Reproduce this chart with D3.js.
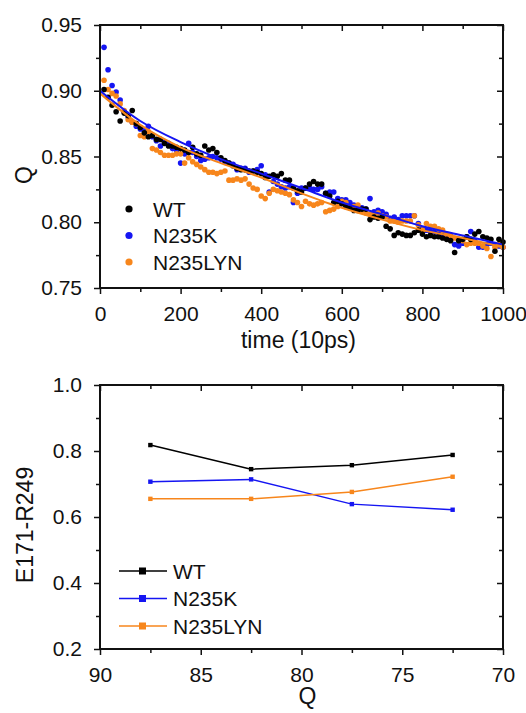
<!DOCTYPE html>
<html>
<head>
<meta charset="utf-8">
<script src="https://cdn.jsdelivr.net/npm/d3@7"></script>
<style>
  body { margin: 0; background: #fff; }
  text { font-family: "Liberation Sans", Arial, Helvetica, sans-serif; }
</style>
</head>
<body>
<svg id="fig" width="526" height="713"></svg>
<script>
// ---- top panel: Q vs time ----
const times = [10, 20, 30, 40, 50, 60, 70, 80, 90, 100,
  110, 120, 130, 140, 150, 160, 170, 180, 190, 200,
  210, 220, 230, 240, 250, 260, 270, 280, 290, 300,
  310, 320, 330, 340, 350, 360, 370, 380, 390, 400,
  410, 420, 430, 440, 450, 460, 470, 480, 490, 500,
  510, 520, 530, 540, 550, 560, 570, 580, 590, 600,
  610, 620, 630, 640, 650, 660, 670, 680, 690, 700,
  710, 720, 730, 740, 750, 760, 770, 780, 790, 800,
  810, 820, 830, 840, 850, 860, 870, 880, 890, 900,
  910, 920, 930, 940, 950, 960, 970, 980, 990, 1000];

const qWT = [0.901, 0.895, 0.889, 0.884, 0.877, 0.883, 0.881, 0.885, 0.875, 0.872,
  0.868, 0.865, 0.866, 0.863, 0.863, 0.860, 0.858, 0.858, 0.857, 0.856,
  0.855, 0.853, 0.857, 0.852, 0.851, 0.858, 0.855, 0.856, 0.853, 0.849,
  0.847, 0.845, 0.843, 0.841, 0.840, 0.840, 0.839, 0.839, 0.838, 0.837,
  0.834, 0.835, 0.836, 0.835, 0.837, 0.832, 0.832, 0.826, 0.824, 0.823,
  0.826, 0.829, 0.831, 0.829, 0.829, 0.822, 0.820, 0.815, 0.816, 0.814,
  0.812, 0.811, 0.809, 0.809, 0.810, 0.810, 0.802, 0.804, 0.803, 0.804,
  0.797, 0.795, 0.790, 0.792, 0.791, 0.790, 0.790, 0.792, 0.794, 0.791,
  0.789, 0.790, 0.789, 0.789, 0.788, 0.787, 0.786, 0.777, 0.786, 0.787,
  0.789, 0.787, 0.791, 0.793, 0.789, 0.788, 0.787, 0.778, 0.787, 0.785];

const qN235K = [0.933, 0.916, 0.904, 0.899, 0.893, 0.884, 0.880, 0.876, 0.873, 0.871,
  0.870, 0.873, 0.865, 0.862, 0.858, 0.861, 0.860, 0.856, 0.855, 0.845,
  0.852, 0.860, 0.853, 0.850, 0.847, 0.848, 0.849, 0.850, 0.849, 0.848,
  0.846, 0.845, 0.844, 0.840, 0.841, 0.841, 0.838, 0.839, 0.840, 0.843,
  0.836, 0.823, 0.831, 0.829, 0.827, 0.826, 0.827, 0.815, 0.822, 0.826,
  0.826, 0.826, 0.825, 0.825, 0.827, 0.822, 0.823, 0.823, 0.818, 0.817,
  0.817, 0.815, 0.813, 0.812, 0.811, 0.810, 0.818, 0.808, 0.809, 0.808,
  0.806, 0.803, 0.804, 0.802, 0.805, 0.805, 0.805, 0.805, 0.799, 0.795,
  0.794, 0.793, 0.793, 0.792, 0.791, 0.789, 0.788, 0.783, 0.782, 0.784,
  0.789, 0.793, 0.786, 0.781, 0.781, 0.783, 0.784, 0.783, 0.782, 0.781];

const qN235LYN = [0.908, 0.901, 0.898, 0.896, 0.890, 0.885, 0.878, 0.876, 0.875, 0.866,
  0.865, 0.869, 0.856, 0.855, 0.853, 0.851, 0.851, 0.851, 0.852, 0.852,
  0.845, 0.849, 0.846, 0.844, 0.842, 0.840, 0.838, 0.838, 0.837, 0.838,
  0.839, 0.832, 0.832, 0.833, 0.832, 0.833, 0.829, 0.826, 0.825, 0.820,
  0.818, 0.822, 0.825, 0.824, 0.823, 0.822, 0.821, 0.817, 0.815, 0.812,
  0.816, 0.814, 0.813, 0.814, 0.815, 0.808, 0.809, 0.810, 0.812, 0.816,
  0.815, 0.811, 0.812, 0.813, 0.809, 0.807, 0.806, 0.806, 0.807, 0.805,
  0.804, 0.801, 0.801, 0.800, 0.801, 0.801, 0.801, 0.805, 0.798, 0.794,
  0.799, 0.797, 0.797, 0.795, 0.794, 0.791, 0.790, 0.788, 0.787, 0.786,
  0.783, 0.784, 0.784, 0.784, 0.782, 0.780, 0.774, 0.781, 0.783, 0.781];

// fitted decay curves
const fitTimes = [0, 100, 200, 300, 400, 500, 600, 700, 800, 900, 1000];
const fitN235K = [0.900, 0.877, 0.861, 0.848, 0.837, 0.826, 0.815, 0.806, 0.797, 0.790, 0.783];
const fitN235LYN = [0.898, 0.874, 0.857, 0.845, 0.834, 0.822, 0.811, 0.802, 0.794, 0.788, 0.781];

const timeTicks = [0, 200, 400, 600, 800, 1000];
const timeMinor = [100, 300, 500, 700, 900];
const qTicks = [0.75, 0.80, 0.85, 0.90, 0.95];
const qMinor = [0.775, 0.825, 0.875, 0.925];

// ---- bottom panel: E171-R249 vs Q ----
const qBins = [87.5, 82.5, 77.5, 72.5];
const saltWT = [0.818, 0.745, 0.757, 0.788];
const saltN235K = [0.707, 0.714, 0.639, 0.622];
const saltN235LYN = [0.655, 0.655, 0.676, 0.722];

const binTicks = [90, 85, 80, 75, 70];
const binMinor = [87.5, 82.5, 77.5, 72.5];
const saltTicks = [0.2, 0.4, 0.6, 0.8, 1.0];
const saltMinor = [0.3, 0.5, 0.7, 0.9];

const names = ["WT", "N235K", "N235LYN"];
const colors = ["#000000", "#1515f2", "#f7861c"];

const svg = d3.select("#fig");
const FONT = 21;
const TITLE = 23;

function frame(g, x, y, w, h, xt, xm, yt, ym, xfmt, yfmt) {
  const style = sel => {
    sel.select(".domain").remove();
    sel.selectAll("line").attr("stroke", "#111").attr("stroke-width", 1.5);
    sel.selectAll("text").attr("font-size", FONT).attr("fill", "#111");
  };
  g.append("g").attr("transform", `translate(0,${h})`)
    .call(d3.axisBottom(x).tickValues(xt).tickSize(6).tickPadding(12).tickFormat(xfmt)).call(style);
  g.append("g").attr("transform", `translate(0,${h})`)
    .call(d3.axisBottom(x).tickValues(xm).tickSize(4).tickFormat("")).call(style);
  g.append("g")
    .call(d3.axisTop(x).tickValues(xt).tickSize(-6).tickFormat("")).call(style);
  g.append("g")
    .call(d3.axisTop(x).tickValues(xm).tickSize(-4).tickFormat("")).call(style);
  g.append("g")
    .call(d3.axisLeft(y).tickValues(yt).tickSize(6).tickPadding(12).tickFormat(yfmt)).call(style);
  g.append("g")
    .call(d3.axisLeft(y).tickValues(ym).tickSize(4).tickFormat("")).call(style);
  g.append("g").attr("transform", `translate(${w},0)`)
    .call(d3.axisRight(y).tickValues(yt).tickSize(-6).tickFormat("")).call(style);
  g.append("g").attr("transform", `translate(${w},0)`)
    .call(d3.axisRight(y).tickValues(ym).tickSize(-4).tickFormat("")).call(style);
  g.append("rect").attr("width", w).attr("height", h)
    .attr("fill", "none").attr("stroke", "#111").attr("stroke-width", 2);
}

// top panel
{
  const left = 100, top = 25, w = 403, h = 263;
  const g = svg.append("g").attr("transform", `translate(${left},${top})`);
  const x = d3.scaleLinear().domain([0, 1000]).range([0, w]);
  const y = d3.scaleLinear().domain([0.75, 0.95]).range([h, 0]);

  const plot = g.append("g");
  const sets = [qWT, qN235K, qN235LYN];
  [1, 2, 0].forEach(i => {
    plot.selectAll(null).data(times.map((t, k) => [t, sets[i][k]]))
      .enter().append("circle")
      .attr("cx", d => x(d[0])).attr("cy", d => y(d[1]))
      .attr("r", 2.8).attr("fill", colors[i]);
  });

  const line = d3.line().x(d => x(d[0])).y(d => y(d[1])).curve(d3.curveMonotoneX);
  plot.append("path").datum(fitTimes.map((t, k) => [t, fitN235LYN[k]]))
    .attr("d", line).attr("fill", "none").attr("stroke", colors[2]).attr("stroke-width", 2);
  plot.append("path").datum(fitTimes.map((t, k) => [t, fitN235K[k]]))
    .attr("d", line).attr("fill", "none").attr("stroke", colors[1]).attr("stroke-width", 2);

  frame(g, x, y, w, h, timeTicks, timeMinor, qTicks, qMinor, d3.format("d"), d3.format(".2f"));

  const leg = g.append("g");
  names.forEach((n, i) => {
    const cy = 184 + i * 26.5;
    leg.append("circle").attr("cx", 29).attr("cy", cy).attr("r", 3.6).attr("fill", colors[i]);
    leg.append("text").attr("x", 53).attr("y", cy + 7.5).attr("font-size", FONT).attr("fill", "#111").text(n);
  });

  g.append("text").attr("x", w / 2 - 3).attr("y", 323).attr("text-anchor", "middle")
    .attr("font-size", TITLE).attr("fill", "#111").text("time (10ps)");
  svg.append("text").attr("transform", "translate(32,175) rotate(-90)").attr("text-anchor", "middle")
    .attr("font-size", TITLE).attr("fill", "#111").text("Q");
}

// bottom panel
{
  const left = 100, top = 385, w = 403, h = 264;
  const g = svg.append("g").attr("transform", `translate(${left},${top})`);
  const x = d3.scaleLinear().domain([90, 70]).range([0, w]);
  const y = d3.scaleLinear().domain([0.2, 1.0]).range([h, 0]);

  const sets = [saltWT, saltN235K, saltN235LYN];
  const line = d3.line().x(d => x(d[0])).y(d => y(d[1]));
  sets.forEach((s, i) => {
    const pts = qBins.map((q, k) => [q, s[k]]);
    g.append("path").datum(pts).attr("d", line)
      .attr("fill", "none").attr("stroke", colors[i]).attr("stroke-width", 1.5);
    g.selectAll(null).data(pts).enter().append("rect")
      .attr("x", d => x(d[0]) - 2.2).attr("y", d => y(d[1]) - 2.2)
      .attr("width", 4.4).attr("height", 4.4).attr("fill", colors[i]);
  });

  frame(g, x, y, w, h, binTicks, binMinor, saltTicks, saltMinor, d3.format("d"), d3.format(".1f"));

  const leg = g.append("g");
  names.forEach((n, i) => {
    const cy = 186 + i * 27.5;
    leg.append("line").attr("x1", 19).attr("x2", 67).attr("y1", cy).attr("y2", cy)
      .attr("stroke", colors[i]).attr("stroke-width", 1.6);
    leg.append("rect").attr("x", 39).attr("y", cy - 3.5).attr("width", 7).attr("height", 7).attr("fill", colors[i]);
    leg.append("text").attr("x", 73).attr("y", cy + 7.5).attr("font-size", FONT).attr("fill", "#111").text(n);
  });

  g.append("text").attr("x", w / 2 + 6).attr("y", 319).attr("text-anchor", "middle")
    .attr("font-size", TITLE).attr("fill", "#111").text("Q");
  svg.append("text").attr("transform", "translate(33,525) rotate(-90)").attr("text-anchor", "middle")
    .attr("font-size", TITLE).attr("fill", "#111").text("E171-R249");
}
</script>
</body>
</html>
